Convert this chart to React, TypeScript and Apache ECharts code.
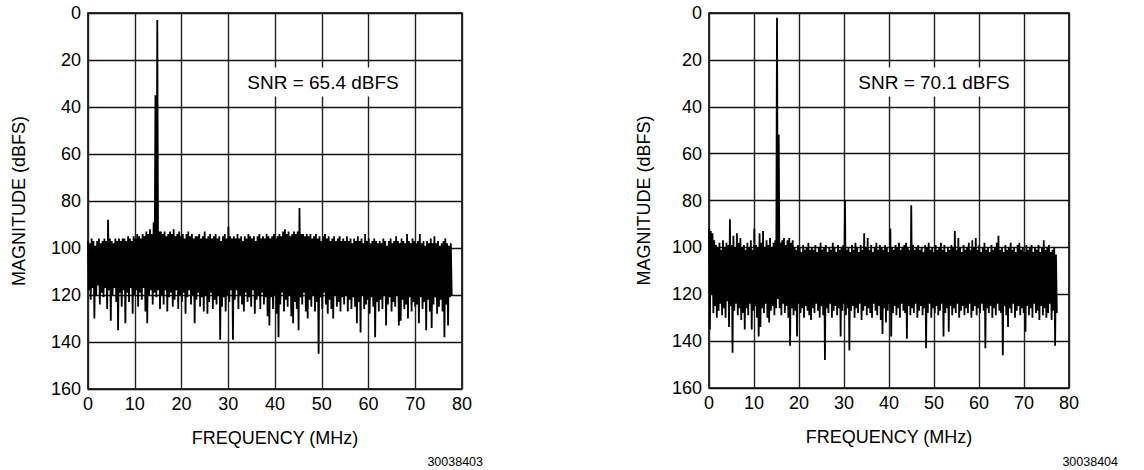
import React, { useEffect, useRef } from "react";
import * as echarts from "echarts";

// ---- Data ----
// Each chart: FFT bins alternate between "upper" and "lower" excursions of the noise floor.
const X_TICKS = [0, 10, 20, 30, 40, 50, 60, 70, 80];
const Y_TICKS = [0, 20, 40, 60, 80, 100, 120, 140, 160];

const LEFT_SPAN_MHZ = 77.8;
const RIGHT_SPAN_MHZ = 77.3;

const LEFT_SNR = "SNR = 65.4 dBFS";
const RIGHT_SNR = "SNR = 70.1 dBFS";
const LEFT_FIG = "30038403";
const RIGHT_FIG = "30038404";

// Left plot: upper excursions (dBFS below full scale)
const leftUpper = [
  97, 98, 96, 97, 99, 97, 96, 98, 97, 96, 97, 88, 96, 97, 98, 96, 97, 96, 97, 96,
  96, 97, 95, 96, 97, 95, 96, 94, 95, 96, 94, 95, 93, 94, 92, 94, 89, 35, 3, 93,
  93, 94, 93, 95, 94, 93, 94, 92, 95, 94, 93, 95, 94, 96, 94, 93, 95, 94, 96, 95,
  95, 94, 96, 95, 93, 96, 95, 94, 96, 95, 94, 96, 95, 97, 95, 94, 96, 91, 95, 96,
  95, 96, 94, 96, 95, 97, 95, 96, 94, 95, 96, 95, 97, 95, 94, 96, 95, 96, 94, 95,
  96, 95, 94, 96, 95, 94, 95, 93, 92, 94, 93, 95, 94, 93, 94, 93, 83, 94, 94, 95,
  94, 95, 94, 96, 95, 94, 96, 95, 97, 95, 94, 96, 95, 97, 96, 95, 97, 96, 95, 97,
  96, 97, 95, 97, 96, 98, 96, 97, 95, 97, 96, 98, 94, 97, 96, 98, 97, 96, 97, 98,
  97, 98, 96, 97, 99, 97, 96, 98, 97, 95, 97, 98, 96, 97, 98, 94, 97, 98, 96, 97,
  98, 97, 94, 98, 97, 99, 97, 98, 96, 98, 95, 98, 97, 99, 98, 97, 96, 98, 99, 98,
];
// Left plot: lower excursions
const leftLower = [
  118, 122, 117, 130, 120, 116, 124, 119, 121, 117, 126, 118, 131, 120, 117, 123, 135, 119, 125, 118,
  132, 119, 123, 117, 128, 120, 118, 125, 119, 122, 117, 127, 132, 120, 118, 124, 119, 121, 118, 126,
  120, 124, 118, 127, 121, 119, 125, 122, 118, 126, 120, 123, 119, 128, 121, 118, 124, 120, 132, 122,
  119, 125, 121, 127, 120, 128, 123, 119, 126, 122, 124, 120, 139, 125, 121, 127, 120, 123, 118, 139,
  122, 118, 126, 120, 124, 127, 119, 123, 121, 125, 118, 128, 122, 120, 126, 119, 124, 121, 129, 133,
  121, 126, 120, 128, 138, 124, 119, 127, 122, 125, 120, 129, 132, 123, 126, 135, 121, 124, 119, 127,
  130, 122, 125, 120, 127, 123, 145, 121, 126, 119, 124, 128, 122, 126, 130, 120, 125, 123, 127, 121,
  124, 120, 127, 122, 126, 121, 125, 132, 123, 136, 120, 126, 124, 122, 128, 121, 125, 138, 123, 127,
  122, 126, 120, 133, 124, 121, 127, 123, 125, 120, 133, 131, 122, 126, 124, 130, 121, 127, 123, 125,
  124, 132, 121, 126, 123, 135, 122, 127, 134, 124, 121, 128, 125, 122, 127, 138, 124, 133, 121, 120,
];

// Right plot: upper excursions
const rightUpper = [
  92, 93, 94, 97, 99, 100, 98, 101, 97, 100, 98, 99, 88, 99, 95, 100, 94, 98, 96, 100,
  99, 101, 98, 100, 97, 101, 92, 99, 100, 94, 98, 93, 100, 97, 99, 96, 100, 98, 97, 2,
  52, 98, 97, 96, 99, 97, 96, 98, 97, 100, 101, 99, 100, 102, 99, 101, 100, 98, 101, 100,
  101, 99, 102, 100, 98, 101, 100, 99, 102, 100, 101, 98, 100, 102, 99, 101, 100, 99, 80, 101,
  100, 102, 99, 101, 98, 100, 102, 99, 101, 94, 100, 96, 101, 99, 102, 100, 98, 101, 99, 100,
  101, 99, 100, 102, 92, 100, 101, 99, 100, 98, 101, 100, 99, 98, 100, 101, 82, 99, 101, 100,
  99, 101, 100, 102, 99, 100, 98, 101, 100, 102, 99, 101, 100, 98, 101, 99, 102, 100, 101, 99,
  100, 93, 101, 96, 100, 102, 99, 101, 100, 98, 101, 97, 100, 96, 101, 99, 102, 100, 98, 101,
  100, 102, 99, 101, 100, 98, 95, 101, 100, 102, 99, 101, 100, 98, 101, 100, 102, 99, 98, 101,
  100, 102, 99, 101, 100, 99, 102, 100, 101, 99, 102, 100, 97, 101, 100, 99, 102, 101, 100, 103,
];
// Right plot: lower excursions
const rightLower = [
  135, 120, 128, 125, 130, 127, 124, 129, 126, 130, 123, 134, 125, 145, 127, 124, 129, 126, 131, 128,
  135, 126, 129, 124, 135, 127, 125, 130, 138, 134, 126, 128, 124, 130, 132, 127, 125, 129, 126, 122,
  126, 129, 124, 128, 125, 130, 142, 126, 129, 127, 138, 124, 128, 126, 130, 125, 127, 129, 131, 126,
  128, 124, 127, 130, 125, 129, 148, 126, 128, 124, 130, 127, 125, 129, 126, 138, 127, 124, 129, 126,
  144, 127, 125, 130, 126, 128, 124, 131, 127, 125, 129, 126, 128, 130, 124, 127, 129, 125, 131, 137,
  126, 132, 127, 124, 138, 128, 125, 129, 126, 130, 124, 127, 128, 139, 125, 129, 126, 128, 124, 130,
  127, 125, 129, 126, 143, 128, 124, 130, 126, 128, 125, 129, 127, 124, 138, 128, 126, 136, 125, 129,
  126, 128, 124, 130, 127, 125, 129, 126, 128, 124, 130, 127, 125, 129, 126, 128, 124, 127, 143, 126,
  128, 125, 130, 126, 129, 124, 127, 128, 146, 125, 129, 134, 126, 128, 124, 130, 127, 125, 129, 126,
  128, 136, 125, 129, 126, 130, 124, 128, 127, 131, 125, 129, 126, 130, 128, 124, 131, 127, 142, 128,
];

// FFT bins are evenly spaced in frequency: pair the read values with bin frequencies.
function toBins(upper: number[], lower: number[], span: number): number[][] {
  const n = upper.length * 2;
  const out: number[][] = [];
  for (let i = 0; i < upper.length; i++) {
    out.push([((2 * i) * span) / (n - 1), upper[i]]);
    out.push([((2 * i + 1) * span) / (n - 1), lower[i]]);
  }
  return out;
}

const FONT = "'Liberation Sans', Arial, Helvetica, sans-serif";

function axesFor(gridIndex: number, yNameGap: number) {
  const x = {
    type: "value",
    gridIndex,
    min: X_TICKS[0],
    max: X_TICKS[X_TICKS.length - 1],
    interval: X_TICKS[1] - X_TICKS[0],
    name: "FREQUENCY (MHz)",
    nameLocation: "middle",
    nameGap: 40,
    nameTextStyle: { fontFamily: FONT, fontSize: 18, color: "#000" },
    axisLine: { show: false },
    axisTick: { show: false },
    axisLabel: { fontFamily: FONT, fontSize: 18, color: "#000", margin: 6 },
    splitLine: { show: true, lineStyle: { color: "#222", width: 1.4 } },
  };
  const y = {
    type: "value",
    gridIndex,
    inverse: true,
    min: Y_TICKS[0],
    max: Y_TICKS[Y_TICKS.length - 1],
    interval: Y_TICKS[1] - Y_TICKS[0],
    name: "MAGNITUDE (dBFS)",
    nameLocation: "middle",
    nameRotate: 90,
    nameGap: yNameGap,
    nameTextStyle: { fontFamily: FONT, fontSize: 18, color: "#000" },
    axisLine: { show: false },
    axisTick: { show: false },
    axisLabel: { fontFamily: FONT, fontSize: 18, color: "#000", margin: 7 },
    splitLine: { show: true, lineStyle: { color: "#111", width: 1.4 } },
  };
  return { x, y };
}

export default function App() {
  const ref = useRef<HTMLDivElement>(null);
  useEffect(() => {
    if (!ref.current) return;
    const chart = echarts.init(ref.current, undefined, { renderer: "svg" });
    const a0 = axesFor(0, 60);
    const a1 = axesFor(1, 56);
    const lineStyle = { color: "#000", width: 1.8, join: "miter" };
    chart.setOption({
      animation: false,
      backgroundColor: "#fff",
      grid: [
        { left: 88, top: 13, width: 374, height: 376, show: true, borderColor: "#000", borderWidth: 1.6, backgroundColor: "transparent" },
        { left: 709, top: 13, width: 360, height: 375, show: true, borderColor: "#000", borderWidth: 1.6, backgroundColor: "transparent" },
      ],
      xAxis: [a0.x, a1.x],
      yAxis: [a0.y, a1.y],
      series: [
        {
          type: "line",
          xAxisIndex: 0,
          yAxisIndex: 0,
          data: toBins(leftUpper, leftLower, LEFT_SPAN_MHZ),
          showSymbol: false,
          symbol: "none",
          lineStyle,
          silent: true,
        },
        {
          type: "line",
          xAxisIndex: 1,
          yAxisIndex: 1,
          data: toBins(rightUpper, rightLower, RIGHT_SPAN_MHZ),
          showSymbol: false,
          symbol: "none",
          lineStyle,
          silent: true,
        },
      ],
      graphic: [
        {
          type: "text",
          x: 323,
          y: 82,
          z: 100,
          style: {
            text: LEFT_SNR,
            font: `19px ${FONT}`,
            fill: "#000",
            align: "center",
            verticalAlign: "middle",
            backgroundColor: "#fff",
            padding: [5, 4],
          },
        },
        {
          type: "text",
          x: 934,
          y: 82,
          z: 100,
          style: {
            text: RIGHT_SNR,
            font: `19px ${FONT}`,
            fill: "#000",
            align: "center",
            verticalAlign: "middle",
            backgroundColor: "#fff",
            padding: [5, 4],
          },
        },
        {
          type: "text",
          x: 483,
          y: 462,
          style: { text: LEFT_FIG, font: `12.5px ${FONT}`, fill: "#000", align: "right", verticalAlign: "middle" },
        },
        {
          type: "text",
          x: 1118,
          y: 462,
          style: { text: RIGHT_FIG, font: `12.5px ${FONT}`, fill: "#000", align: "right", verticalAlign: "middle" },
        },
      ],
    });
    return () => chart.dispose();
  }, []);
  return (
    <div
      ref={ref}
      style={{ position: "fixed", left: 0, top: 0, width: 1144, height: 470, background: "#fff" }}
    />
  );
}
